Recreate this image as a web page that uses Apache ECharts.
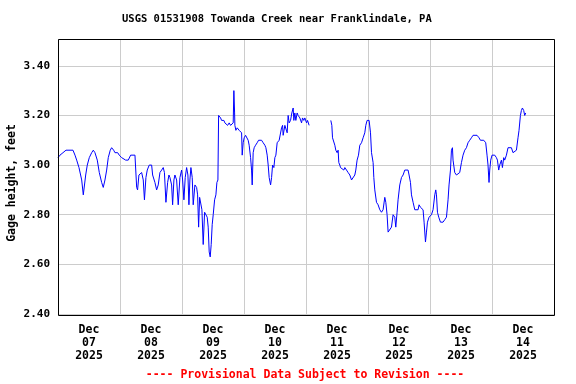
<!DOCTYPE html>
<html>
<head>
<meta charset="utf-8">
<script src="https://cdn.jsdelivr.net/npm/echarts@6/dist/echarts.min.js"></script>
<style>html,body{margin:0;padding:0;background:#fff;}#c{width:576px;height:384px;}</style>
</head>
<body>
<div id="c"></div>
<script>
// hours after 2025-12-07 00:00
const hours = [0,0.77,1.93,3.09,5.8,6.58,7.23,8.12,9.17,9.79,10.17,10.72,11.33,12.11,13.04,13.66,14.31,15.2,15.98,16.9,17.52,18.18,18.84,19.46,20.23,20.77,21.55,22.05,23.1,23.71,24.64,25.26,26.19,27.2,28.12,29.79,
30.45,30.8,31.33,32.38,33.0,33.46,34.04,34.55,35.32,36.25,36.63,37.52,38.18,38.8,39.46,40.12,40.74,41.2,41.78,42.44,42.94,43.33,43.98,44.37,44.87,45.26,45.92,46.54,47.2,47.85,48.24,48.74,49.25,49.79,50.29,50.68,51.06,51.45,51.95,52.34,53.0,53.66,54.04,54.43,54.82,55.32,55.71,56.21,56.75,57.25,57.76,58.14,58.53,58.92,59.3,59.69,60.08,60.62,61.12,61.51,61.9,
62.17,62.4,62.94,63.33,64.22,64.6,65.26,65.65,66.27,66.81,67.43,67.82,68.08,68.36,68.47,68.86,69.36,70.14,70.68,71.07,71.3,71.68,72.07,72.61,73.11,73.62,74.0,74.55,74.93,75.17,75.55,75.94,76.48,77.1,77.64,78.14,78.8,79.42,80.08,80.47,80.97,81.36,81.74,82.29,82.68,83.06,83.56,83.95,84.34,84.84,85.61,86.15,86.54,86.93,87.16,87.82,88.2,88.71,89.09,89.48,90.02,90.52,91.03,91.3,91.68,92.07,92.57,92.96,93.62,94.28,94.66,95.16,95.55,96.21,96.6,97.21,
100,
105.6,106.0,106.27,106.77,107.16,107.54,108.05,108.43,108.7,109.09,109.36,110.13,110.64,111.03,111.68,112.3,112.96,113.62,114.24,114.89,115.28,115.78,116.32,116.83,117.49,118.11,118.76,119.15,119.65,120.43,120.97,121.36,121.98,122.25,122.63,123.29,123.91,124.57,125.22,125.84,126.5,126.89,127.39,127.78,128.43,129.09,129.71,130.37,130.76,131.26,131.64,132.3,132.96,133.58,134.24,134.9,135.51,135.9,136.44,136.83,137.45,138.11,138.77,139.38,139.77,140.31,140.93,141.32,141.71,142.25,142.63,143.02,143.64,144.56,145.18,145.84,146.23,146.5,146.89,147.39,148.05,149.05,149.71,150.37,150.99,151.37,151.92,152.3,152.69,152.92,153.58,154.24,154.86,155.51,156.17,156.79,157.45,158.1,158.72,159.38,160.04,160.66,161.31,162.2,162.59,162.98,163.52,164.8,165.57,166.08,166.46,166.85,167.12,167.51,168.01,169.05,169.71,170.1,170.6,170.99,171.65,172.03,172.54,172.92,173.58,174.2,174.86,175.51,176.13,176.79,177.45,178.07,178.46,179.0,179.38,179.77,180.27,180.66,181.05,181.31];

const gage = [3.03,3.04,3.05,3.06,3.06,3.04,3.02,2.99,2.94,2.88,2.88,2.96,3.00,3.03,3.05,3.06,3.05,3.02,2.97,2.93,2.91,2.94,2.98,3.03,3.06,3.07,3.06,3.05,3.05,3.04,3.03,3.03,3.02,3.02,3.04,3.04,
2.91,2.90,2.96,2.97,2.94,2.86,2.95,2.98,3.00,3.00,2.96,2.93,2.90,2.92,2.97,2.98,2.99,2.97,2.85,2.93,2.96,2.95,2.92,2.84,2.94,2.96,2.94,2.84,2.95,2.98,2.94,2.86,2.95,2.99,2.96,2.84,2.94,2.99,2.95,2.84,2.92,2.91,2.88,2.75,2.87,2.87,2.82,2.68,2.81,2.81,2.79,2.75,2.65,2.63,2.68,2.76,2.80,2.86,2.88,2.93,2.94,
3.20,3.20,3.19,3.18,3.18,3.17,3.17,3.16,3.17,3.16,3.16,3.17,3.30,3.21,3.16,3.14,3.15,3.14,3.14,3.13,3.04,3.09,3.11,3.12,3.12,3.10,3.08,3.03,2.98,2.92,3.05,3.07,3.08,3.09,3.10,3.10,3.10,3.09,3.08,3.07,3.04,3.00,2.95,2.92,2.95,3.00,2.99,3.03,3.04,3.09,3.10,3.10,3.15,3.16,3.12,3.16,3.16,3.13,3.20,3.17,3.18,3.21,3.23,3.18,3.21,3.18,3.21,3.20,3.19,3.17,3.19,3.18,3.19,3.17,3.18,3.16,
null,
3.18,3.16,3.11,3.11,3.08,3.06,3.05,3.06,3.01,3.00,2.99,2.99,2.98,2.99,2.98,2.97,2.96,2.94,2.94,2.96,2.98,3.02,3.04,3.08,3.09,3.11,3.13,3.16,3.18,3.18,3.13,3.05,3.01,2.95,2.90,2.85,2.84,2.82,2.81,2.82,2.87,2.85,2.80,2.73,2.73,2.75,2.80,2.79,2.75,2.81,2.86,2.92,2.95,2.96,2.98,2.98,2.98,2.96,2.93,2.88,2.85,2.82,2.82,2.82,2.84,2.83,2.83,2.82,2.77,2.69,2.73,2.77,2.79,2.80,2.82,2.88,2.90,2.88,2.81,2.79,2.77,2.77,2.78,2.79,2.86,2.92,2.98,3.06,3.07,3.02,2.97,2.96,2.96,2.97,3.01,3.04,3.06,3.07,3.09,3.10,3.11,3.12,3.12,3.12,3.12,3.11,3.10,3.10,3.09,3.04,3.00,2.93,2.98,3.02,3.04,3.04,3.03,3.02,2.98,3.00,3.02,2.99,3.03,3.02,3.04,3.07,3.07,3.07,3.05,3.05,3.06,3.11,3.14,3.20,3.22,3.23,3.22,3.20,3.21,3.21];

const dayLabels = ['Dec\n07\n2025','Dec\n08\n2025','Dec\n09\n2025','Dec\n10\n2025','Dec\n11\n2025','Dec\n12\n2025','Dec\n13\n2025','Dec\n14\n2025'];
const yTicks = {min: 2.4, max: 3.508, interval: 0.2};

const FONT = '"DejaVu Sans Mono", "Liberation Mono", monospace';
const seriesData = hours.map((h, i) => [h, gage[i] === null ? '-' : gage[i]]);

const GL = 58, GT = 39, GW = 496, GH = 275;
const chart = echarts.init(document.getElementById('c'));
chart.setOption({
  animation: false,
  backgroundColor: '#fff',
  title: {
    text: 'USGS 01531908 Towanda Creek near Franklindale, PA',
    left: 122, top: 14, padding: 0,
    textStyle: {fontFamily: FONT, fontWeight: 'bold', fontSize: 10.5, color: '#000'}
  },
  grid: {left: GL, top: GT, width: GW, height: GH, show: false},
  xAxis: [{
    type: 'value', min: 0, max: 192, interval: 24,
    axisLine: {show: false}, axisTick: {show: false}, axisLabel: {show: false},
    splitLine: {show: true, lineStyle: {color: '#cccccc', width: 1}}
  }, {
    type: 'category', data: dayLabels, boundaryGap: true, position: 'bottom',
    axisLine: {show: false}, axisTick: {show: false},
    splitLine: {show: false},
    axisLabel: {margin: 10, fontFamily: FONT, fontWeight: 'bold', fontSize: 11.5, lineHeight: 13, color: '#000'}
  }],
  yAxis: {
    type: 'value', min: yTicks.min, max: yTicks.max, interval: yTicks.interval,
    axisLine: {show: false}, axisTick: {show: false},
    axisLabel: {margin: 8, showMaxLabel: false, fontFamily: FONT, fontWeight: 'bold', fontSize: 11, color: '#000',
      formatter: v => v.toFixed(2)},
    splitLine: {show: true, lineStyle: {color: '#cccccc', width: 1}}
  },
  graphic: [
    {type: 'rect', z: 100, silent: true,
     shape: {x: GL + 0.5, y: GT + 0.5, width: GW, height: GH + 1},
     style: {fill: null, stroke: '#000', lineWidth: 1}},
    {type: 'text', z: 100, x: 12, y: 183, rotation: Math.PI / 2,
     style: {text: 'Gage height, feet', fontFamily: FONT, fontWeight: 'bold', fontSize: 11.5, fill: '#000', align: 'center', verticalAlign: 'middle'}},
    {type: 'text', z: 100, x: 305, y: 375,
     style: {text: '---- Provisional Data Subject to Revision ----', fontFamily: FONT, fontWeight: 'bold', fontSize: 11.5, fill: '#ff0000', align: 'center', verticalAlign: 'middle'}}
  ],
  series: [{
    type: 'line', xAxisIndex: 0, yAxisIndex: 0,
    data: seriesData, showSymbol: false, connectNulls: false,
    lineStyle: {color: '#0000ff', width: 1}, itemStyle: {color: '#0000ff'}
  }]
});
</script>
</body>
</html>
